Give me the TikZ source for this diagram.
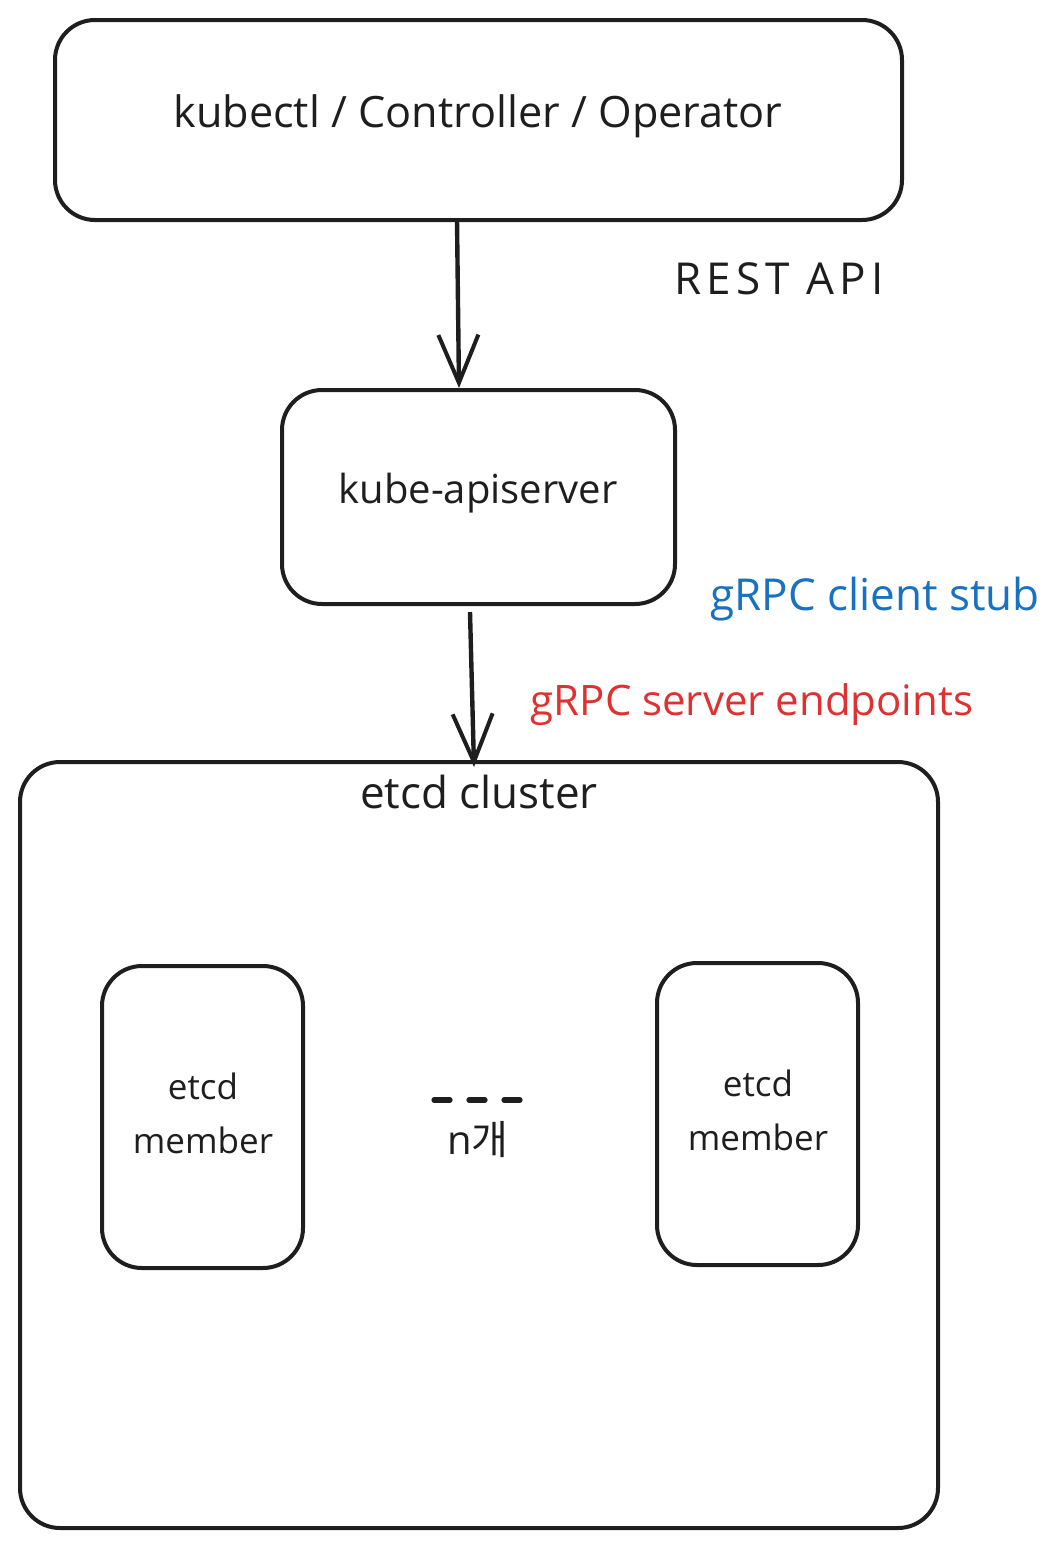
\documentclass[tikz,border=0pt]{standalone}
\usepackage{fontspec}
\setmainfont{Open Sans}
\newfontfamily\kofont{Noto Sans CJK KR}
\usetikzlibrary{arrows.meta}
\definecolor{exblue}{HTML}{1971C2}
\definecolor{exred}{HTML}{E03131}
\definecolor{exink}{HTML}{1E1E1E}
\newcommand{\fsz}[1]{\fontsize{#1}{#1*1.2}\selectfont}
\begin{document}
\begin{tikzpicture}[x=0.5pt,y=-0.5pt,
  box/.style={draw=exink, line width=2pt, rounded corners=20pt},
  lbl/.style={font=\fontsize{21}{25}\selectfont, text=exink},
  conn/.style={draw=exink, line width=2.2pt, -{Straight Barb[length=24pt,width=20pt,line width=2pt]}}]
\useasboundingbox (0,0) rectangle (1058,1547);
% boxes
\draw[box] (55,20) rectangle (902,220);
\node[lbl, font=\fontsize{21.6}{26}\selectfont] (client) at (478,116) {kubectl / Controller / Operator};
\coordinate (clientB) at (457,220);
\draw[box] (282,390) rectangle (675,604);
\node[lbl, font=\fontsize{20}{24}\selectfont] (api) at (478,493) {kube-apiserver};
\coordinate (apiT) at (459,388);
\coordinate (apiB) at (470,612);
\draw[box] (20,762) rectangle (938,1528);
\node[lbl, font=\fontsize{22}{26}\selectfont] (cluster) at (479,792) {etcd cluster};
\coordinate (clusterT) at (474,767);
\draw[box] (102,966) rectangle (303,1268);
\node[lbl, align=center, font=\fontsize{17.5}{27}\selectfont] (m1) at (203,1113) {etcd\\member};
\draw[box] (657,963) rectangle (858,1265);
\node[lbl, align=center, font=\fontsize{17.5}{27}\selectfont] (m2) at (758,1110) {etcd\\member};
\draw[draw=exink, line width=2.6pt, line cap=round, dash pattern=on 8pt off 9.5pt] (434,1100) -- (520,1100);
\node[lbl, font=\fontsize{20}{24}\selectfont] (n) at (478,1140) {n{\kofont 개}};
% connectors
\draw[conn] (clientB) -- (apiT);
\draw[conn] (apiB) -- (clusterT);
% labels
\node[lbl, font=\fontsize{22}{26}\selectfont\addfontfeatures{LetterSpace=12}] (rest) at (779,279) {REST API};
\node[lbl, text=exblue, font=\fontsize{22}{26}\selectfont] (stub) at (875,599) {gRPC client stub};
\node[lbl, text=exred, font=\fontsize{21}{25}\selectfont] (srv) at (752,705) {gRPC server endpoints};
\end{tikzpicture}
\end{document}
